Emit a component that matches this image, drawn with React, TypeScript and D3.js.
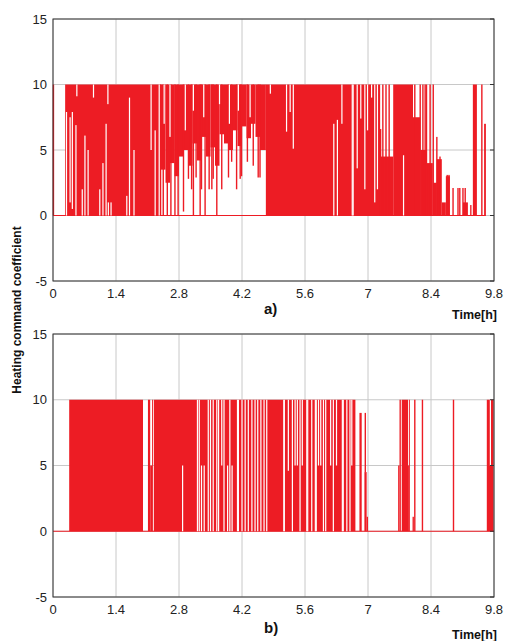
import React from 'react';
import * as d3 from 'd3';

const W = 506;
const H = 641;
const RED = '#ed1c24';

const xTicks = [0, 1.4, 2.8, 4.2, 5.6, 7, 8.4, 9.8];
const yTicks = [-5, 0, 5, 10, 15];

// a) dense switching bands: [tStart, tEnd, low, high]
const aBands = [
  [0.27, 2.38, 0, 10],
  [2.38, 2.5, 3.5, 10],
  [2.5, 2.6, 2.5, 10],
  [2.6, 2.7, 4, 10],
  [2.7, 2.8, 3, 10],
  [2.8, 2.9, 4.5, 10],
  [2.9, 3.0, 5, 10],
  [3.0, 3.1, 3.8, 10],
  [3.1, 3.2, 5.5, 10],
  [3.2, 3.3, 4.2, 10],
  [3.3, 3.4, 6, 10],
  [3.4, 3.5, 4.5, 10],
  [3.5, 3.6, 5.2, 10],
  [3.6, 3.7, 3.8, 10],
  [3.7, 3.8, 6.2, 10],
  [3.8, 3.9, 5.5, 10],
  [3.9, 4.0, 5, 10],
  [4.0, 4.1, 6.5, 10],
  [4.1, 4.2, 5.3, 10],
  [4.2, 4.3, 6.8, 10],
  [4.3, 4.4, 5.9, 10],
  [4.4, 4.5, 7, 10],
  [4.5, 4.6, 6, 10],
  [4.6, 4.73, 5, 10],
  [4.73, 7.27, 0, 10],
  [7.27, 7.56, 0, 4.5],
  [7.56, 8.0, 0, 10],
  [8.0, 8.16, 0, 7.5],
  [8.16, 8.31, 0, 5],
  [8.31, 8.44, 0, 4],
  [8.44, 8.53, 0, 2.5],
  [8.53, 8.64, 0, 4.3],
  [8.64, 8.73, 0, 1],
  [8.73, 8.82, 0, 3],
  [9.11, 9.22, 0, 1],
  [9.27, 9.3, 0, 0.8],
  [9.33, 9.42, 0, 10],
  [9.58, 9.62, 0, 7],
];
// a) steady stretches inside the bands: [t, low, high]
const aGaps = [
  [0.3, 0, 7.9], [0.38, 1, 7.5], [0.43, 0.5, 7.9], [0.51, 0, 6.9], [0.53, 9.1, 10],
  [0.65, 0, 2], [0.71, 0, 6.1], [0.78, 0, 5], [0.9, 9, 10], [1.04, 0, 2],
  [1.11, 0, 4], [1.18, 0, 7], [1.22, 8.5, 10], [1.23, 0, 1], [1.29, 0, 1],
  [1.64, 0, 1.5], [1.7, 0, 9], [1.8, 0, 5], [2.18, 5, 10], [2.27, 0, 6.5],
  [2.36, 0, 10], [2.47, 7, 10], [2.6, 6, 10], [2.94, 6.5, 10], [3.12, 8, 10],
  [3.35, 7.5, 10], [3.7, 8.5, 10], [3.92, 7, 10], [4.12, 8, 10], [4.38, 7.5, 10],
  [4.83, 9.3, 10], [5.19, 6.4, 10], [5.27, 7.9, 10], [5.34, 5.1, 10],
  [6.24, 0, 7], [6.32, 0, 7.3], [6.42, 7, 10], [6.65, 0, 10], [6.67, 0, 10],
  [6.76, 3.6, 10], [6.84, 7.4, 10], [6.93, 2, 10], [6.99, 6.5, 10], [7.08, 9, 10],
  [7.15, 1, 10], [7.21, 2, 10], [7.79, 0, 4.6],
];
// a) isolated switching strands: [t, low, high]
const aSpikes = [
  [0.01, 0, 10],
  [2.39, 0, 10], [2.45, 0, 10], [2.54, 0, 10], [2.62, 0, 10], [2.71, 0, 10],
  [2.78, 0, 10], [2.9, 0.3, 10], [3.01, 2.8, 10], [3.08, 2, 10], [3.12, 0, 10],
  [3.18, 2.9, 10], [3.27, 0, 10], [3.3, 2, 10], [3.38, 0, 10], [3.47, 2, 10],
  [3.53, 2, 10], [3.56, 2.8, 10], [3.64, 0, 10], [3.75, 2, 10], [3.9, 2.9, 10],
  [3.97, 4.1, 10], [4.08, 2, 10], [4.16, 2.8, 10], [4.19, 3, 10], [4.32, 4.1, 10],
  [4.45, 3.8, 10], [4.56, 2.9, 10], [4.6, 2.9, 10],
  [7.28, 0, 6.6], [7.33, 0, 10], [7.4, 0, 10], [7.47, 0, 10],
  [8.04, 0, 10], [8.16, 0, 10], [8.22, 0, 10], [8.27, 0, 10], [8.3, 0, 10],
  [8.38, 0, 10], [8.45, 0, 10], [8.53, 0, 6], [8.6, 0, 4.5], [8.76, 0, 3.1],
  [8.8, 0, 3.1], [8.89, 0, 2.1], [9.0, 0, 2.1], [9.04, 0, 2.1], [9.11, 0, 2.1],
  [9.16, 0, 2.1], [9.53, 0, 10],
];
const aEnd = 9.62;

// b) dense switching bands
const bBands = [
  [0.36, 2.0, 0, 10],
  [2.11, 2.16, 0, 10],
  [2.16, 2.2, 0, 5],
  [2.2, 2.22, 0, 10],
  [2.24, 6.72, 0, 10],
  [6.81, 6.86, 0, 9],
  [6.92, 6.97, 0, 4.5],
  [6.97, 7.0, 0, 1.1],
  [7.67, 7.7, 0, 5],
  [7.7, 7.73, 0, 10],
  [7.75, 7.89, 0, 10],
  [7.89, 7.91, 0, 5],
  [7.91, 7.93, 0, 10],
  [7.99, 8.02, 0, 1.1],
  [9.64, 9.79, 0, 10],
];
// b) steady stretches inside the bands
const bGaps = [
  [2.88, 0, 5], [3.21, 0, 10], [3.25, 0, 10], [3.3, 0, 5], [3.36, 0, 5],
  [3.45, 0, 10], [3.5, 0, 10], [3.56, 0, 10], [3.64, 0, 10], [3.68, 0, 10],
  [3.75, 5, 10], [3.8, 0, 10], [3.88, 0, 5], [3.93, 0, 10], [3.98, 0, 5],
  [4.1, 0, 10], [4.12, 0, 10], [4.2, 0, 10], [4.27, 0, 10], [4.34, 0, 10],
  [4.42, 0, 10], [4.49, 0, 10], [4.55, 0, 10], [4.62, 0, 10], [4.69, 0, 10],
  [4.75, 0, 10], [5.13, 0, 10], [5.14, 0, 10], [5.23, 4.6, 10], [5.32, 0, 10],
  [5.38, 5, 10], [5.43, 5, 10], [5.49, 0, 10], [5.54, 5, 10], [5.64, 0, 10],
  [5.66, 0, 10], [5.75, 0, 10], [5.83, 0, 10], [5.85, 0, 10], [5.9, 5, 10],
  [5.95, 5, 10], [6.01, 0, 10], [6.06, 0, 10], [6.17, 5, 10], [6.23, 0, 10],
  [6.3, 5, 10], [6.43, 0, 10], [6.45, 0, 10], [6.53, 0, 10], [6.6, 0, 10],
  [6.64, 5, 10], [9.72, 5, 10],
];
const bSpikes = [
  [6.94, 4.5, 9], [8.04, 0, 10], [8.21, 0, 10], [8.9, 0, 10],
];
const bEnd = 9.8;

type Row = number[];

function Panel({ top, bottom, bands, gaps, spikes, end, tag, tagY, timeY, tickY }: {
  top: number; bottom: number; bands: Row[]; gaps: Row[]; spikes: Row[];
  end: number; tag: string; tagY: number; timeY: number; tickY: number;
}) {
  const x = d3.scaleLinear().domain([0, 9.8]).range([53, 494]);
  const y = d3.scaleLinear().domain([-5, 15]).range([bottom, top]);
  const font = 'Liberation Sans, Arial, sans-serif';
  return (
    <g>
      <rect x={53} y={top} width={441} height={bottom - top} fill="#fff" />
      {xTicks.map((t) => (
        <line key={'gx' + t} x1={x(t)} x2={x(t)} y1={top} y2={bottom} stroke="#c8c8c8" />
      ))}
      {yTicks.map((v) => (
        <line key={'gy' + v} x1={53} x2={494} y1={y(v)} y2={y(v)} stroke="#c8c8c8" />
      ))}
      <line x1={x(0)} x2={x(end)} y1={y(0)} y2={y(0)} stroke={RED} strokeWidth={1} />
      {bands.map((b, i) => (
        <rect key={'b' + i} x={x(b[0])} width={x(b[1]) - x(b[0])} y={y(b[3])}
          height={y(b[2]) - y(b[3])} fill={RED} />
      ))}
      {spikes.map((s, i) => (
        <rect key={'s' + i} x={x(s[0]) - 0.7} width={1.4} y={y(s[2])}
          height={y(s[1]) - y(s[2])} fill={RED} />
      ))}
      {gaps.map((g, i) => (
        <rect key={'g' + i} x={x(g[0]) - 0.6} width={1.2} y={y(g[2])}
          height={y(g[1]) - y(g[2])} fill="#fff" />
      ))}
      <rect x={53} y={top} width={441} height={bottom - top} fill="none" stroke="#333" />
      {yTicks.map((v) => (
        <line key={'ty' + v} x1={494} x2={490} y1={y(v)} y2={y(v)} stroke="#333" />
      ))}
      {yTicks.map((v) => (
        <text key={'ly' + v} x={47} y={y(v)} dy="0.35em" textAnchor="end"
          fontFamily={font} fontSize={13} fill="#222">{String(v)}</text>
      ))}
      {xTicks.map((t) => (
        <text key={'lx' + t} x={x(t)} y={tickY} textAnchor="middle"
          fontFamily={font} fontSize={13} fill="#222">{String(t)}</text>
      ))}
      <text x={264} y={tagY} fontFamily={font} fontSize={15} fontWeight="bold" fill="#111">{tag}</text>
      <text x={497} y={timeY} textAnchor="end" fontFamily={font} fontSize={12.5}
        fontWeight="bold" fill="#111">Time[h]</text>
    </g>
  );
}

export default function App() {
  return (
    <div style={{ position: 'absolute', left: 0, top: 0 }}>
      <svg width={W} height={H} style={{ display: 'block', background: '#fff' }}>
        <Panel top={19} bottom={281} bands={aBands} gaps={aGaps} spikes={aSpikes}
          end={aEnd} tag="a)" tagY={314} timeY={319} tickY={298} />
        <Panel top={334} bottom={597} bands={bBands} gaps={bGaps} spikes={bSpikes}
          end={bEnd} tag="b)" tagY={633} timeY={639} tickY={614} />
        <text transform="translate(21,310) rotate(-90)" textAnchor="middle"
          fontFamily="Liberation Sans, Arial, sans-serif" fontSize={12} fontWeight="bold"
          fill="#111">Heating command coefficient</text>
      </svg>
    </div>
  );
}
